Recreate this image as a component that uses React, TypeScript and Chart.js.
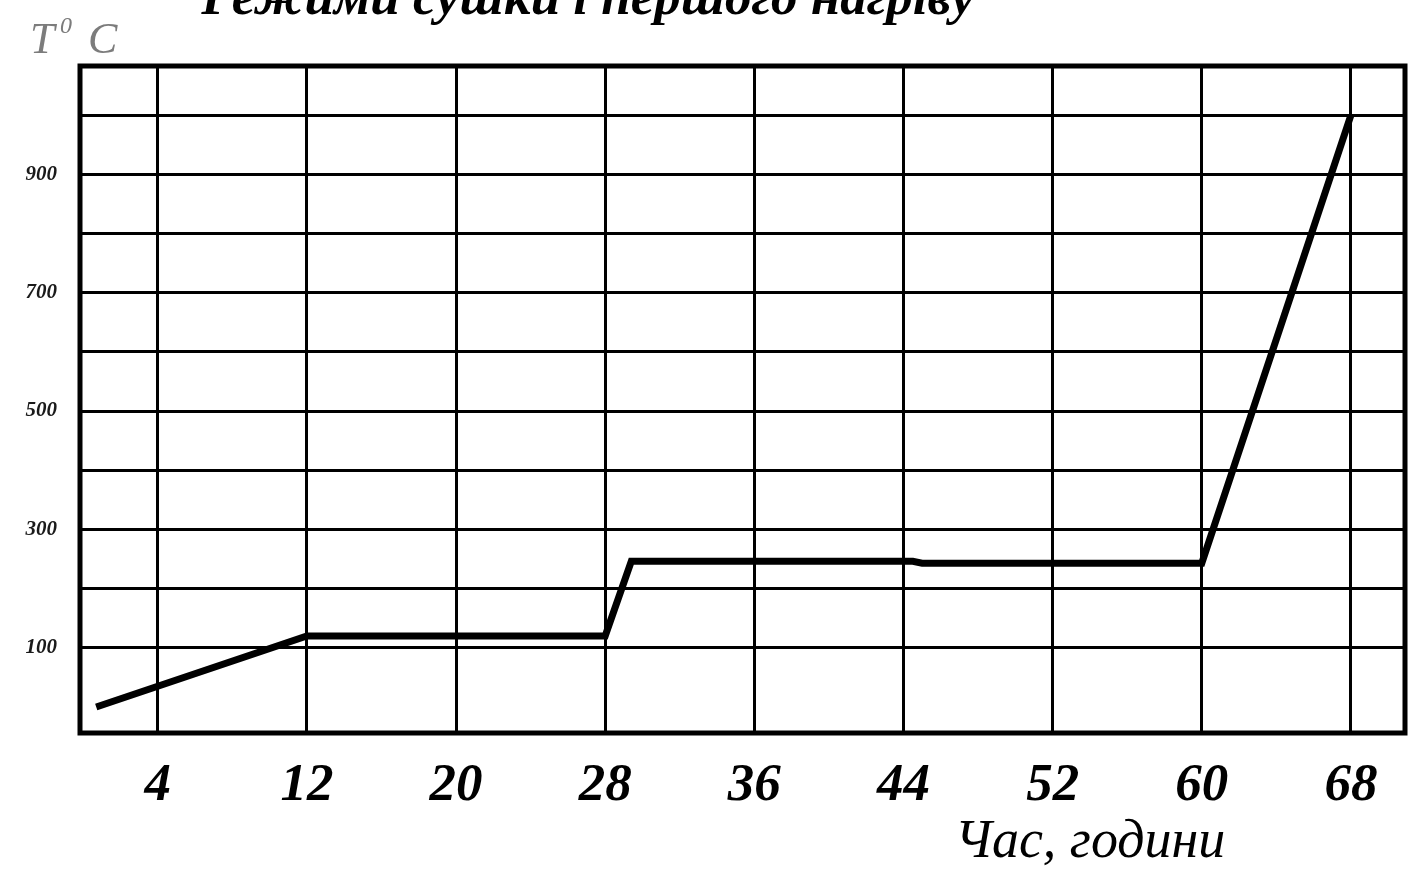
import React, { useEffect, useRef } from "react";
import { Chart, registerables } from "chart.js";

Chart.register(...registerables);

const TITLE = "Режими сушки і першого нагріву";
const Y_TITLE_MAIN = "T";
const Y_TITLE_SUP = "0";
const Y_TITLE_UNIT = "C";
const X_TITLE = "Час, години";

const HOURS = [0.7, 12, 28, 29.4, 44.5, 45, 60, 68];
const TEMPS = [0, 120, 120, 246, 246, 243, 243, 1000];

const X_TICKS = [4, 12, 20, 28, 36, 44, 52, 60, 68];
const Y_GRID = [100, 200, 300, 400, 500, 600, 700, 800, 900, 1000];
const Y_LABELS = [100, 300, 500, 700, 900];

const X_MIN = -0.17;
const X_MAX = 70.9;
const Y_MIN = -44;
const Y_MAX = 1083;

const SERIF = '"Liberation Serif", "Times New Roman", serif';

const decorPlugin = {
  id: "decor",
  beforeDraw(chart: any) {
    const { ctx, width, height } = chart;
    ctx.save();
    ctx.fillStyle = "#ffffff";
    ctx.fillRect(0, 0, width, height);
    ctx.restore();
  },
  beforeDatasetsDraw(chart: any) {
    const { ctx, chartArea } = chart;
    ctx.save();
    ctx.strokeStyle = "#000";
    ctx.lineWidth = 5;
    ctx.strokeRect(
      chartArea.left,
      chartArea.top,
      chartArea.right - chartArea.left,
      chartArea.bottom - chartArea.top
    );
    ctx.restore();
  },
  afterDraw(chart: any) {
    const { ctx } = chart;
    ctx.save();
    ctx.fillStyle = "#000";
    ctx.textAlign = "center";
    ctx.textBaseline = "alphabetic";
    ctx.font = `italic bold 53px ${SERIF}`;
    ctx.fillText(TITLE, 588, 14);

    ctx.font = `italic 54px ${SERIF}`;
    ctx.fillText(X_TITLE, 1090, 857);

    ctx.fillStyle = "#7c7c7c";
    ctx.textAlign = "left";
    ctx.font = `italic 44px ${SERIF}`;
    ctx.fillText(Y_TITLE_MAIN, 30, 53);
    ctx.font = `italic 24px ${SERIF}`;
    ctx.fillText(Y_TITLE_SUP, 60, 33);
    ctx.font = `italic 44px ${SERIF}`;
    ctx.fillText(Y_TITLE_UNIT, 88, 53);
    ctx.restore();
  },
};

export default function App() {
  const ref = useRef<HTMLCanvasElement>(null);

  useEffect(() => {
    if (!ref.current) return;
    const chart = new Chart(ref.current, {
      type: "line",
      data: {
        datasets: [
          {
            data: HOURS.map((h, i) => ({ x: h, y: TEMPS[i] })),
            borderColor: "#000",
            borderWidth: 7,
            pointRadius: 0,
            tension: 0,
            fill: false,
          },
        ],
      },
      options: {
        animation: false,
        responsive: false,
        devicePixelRatio: 1,
        layout: { padding: { top: 66, right: 5, left: 0, bottom: 0 } },
        plugins: {
          legend: { display: false },
          tooltip: { enabled: false },
          title: { display: false },
        },
        scales: {
          x: {
            type: "linear",
            min: X_MIN,
            max: X_MAX,
            afterBuildTicks: (s: any) => {
              s.ticks = X_TICKS.map((v) => ({ value: v }));
            },
            afterFit: (s: any) => {
              s.height = 137;
            },
            grid: { color: "#000", lineWidth: 3, drawTicks: false },
            border: { display: false },
            ticks: {
              autoSkip: false,
              maxRotation: 0,
              padding: 22,
              color: "#000",
              font: { family: SERIF, size: 53, style: "italic", weight: "bold" },
              callback: (v: any) => String(v),
            },
          },
          y: {
            type: "linear",
            min: Y_MIN,
            max: Y_MAX,
            afterBuildTicks: (s: any) => {
              s.ticks = Y_GRID.map((v) => ({ value: v }));
            },
            afterFit: (s: any) => {
              s.width = 80;
            },
            grid: { color: "#000", lineWidth: 3, drawTicks: false },
            border: { display: false },
            ticks: {
              autoSkip: false,
              padding: 23,
              color: "#1a1a1a",
              font: { family: SERIF, size: 21, style: "italic", weight: "bold" },
              callback: (v: any) => (Y_LABELS.includes(v) ? String(v) : ""),
            },
          },
        },
      },
      plugins: [decorPlugin],
    } as any);
    return () => chart.destroy();
  }, []);

  return (
    <canvas
      ref={ref}
      width={1410}
      height={870}
      style={{ position: "fixed", left: 0, top: 0, width: 1410, height: 870 }}
    />
  );
}
